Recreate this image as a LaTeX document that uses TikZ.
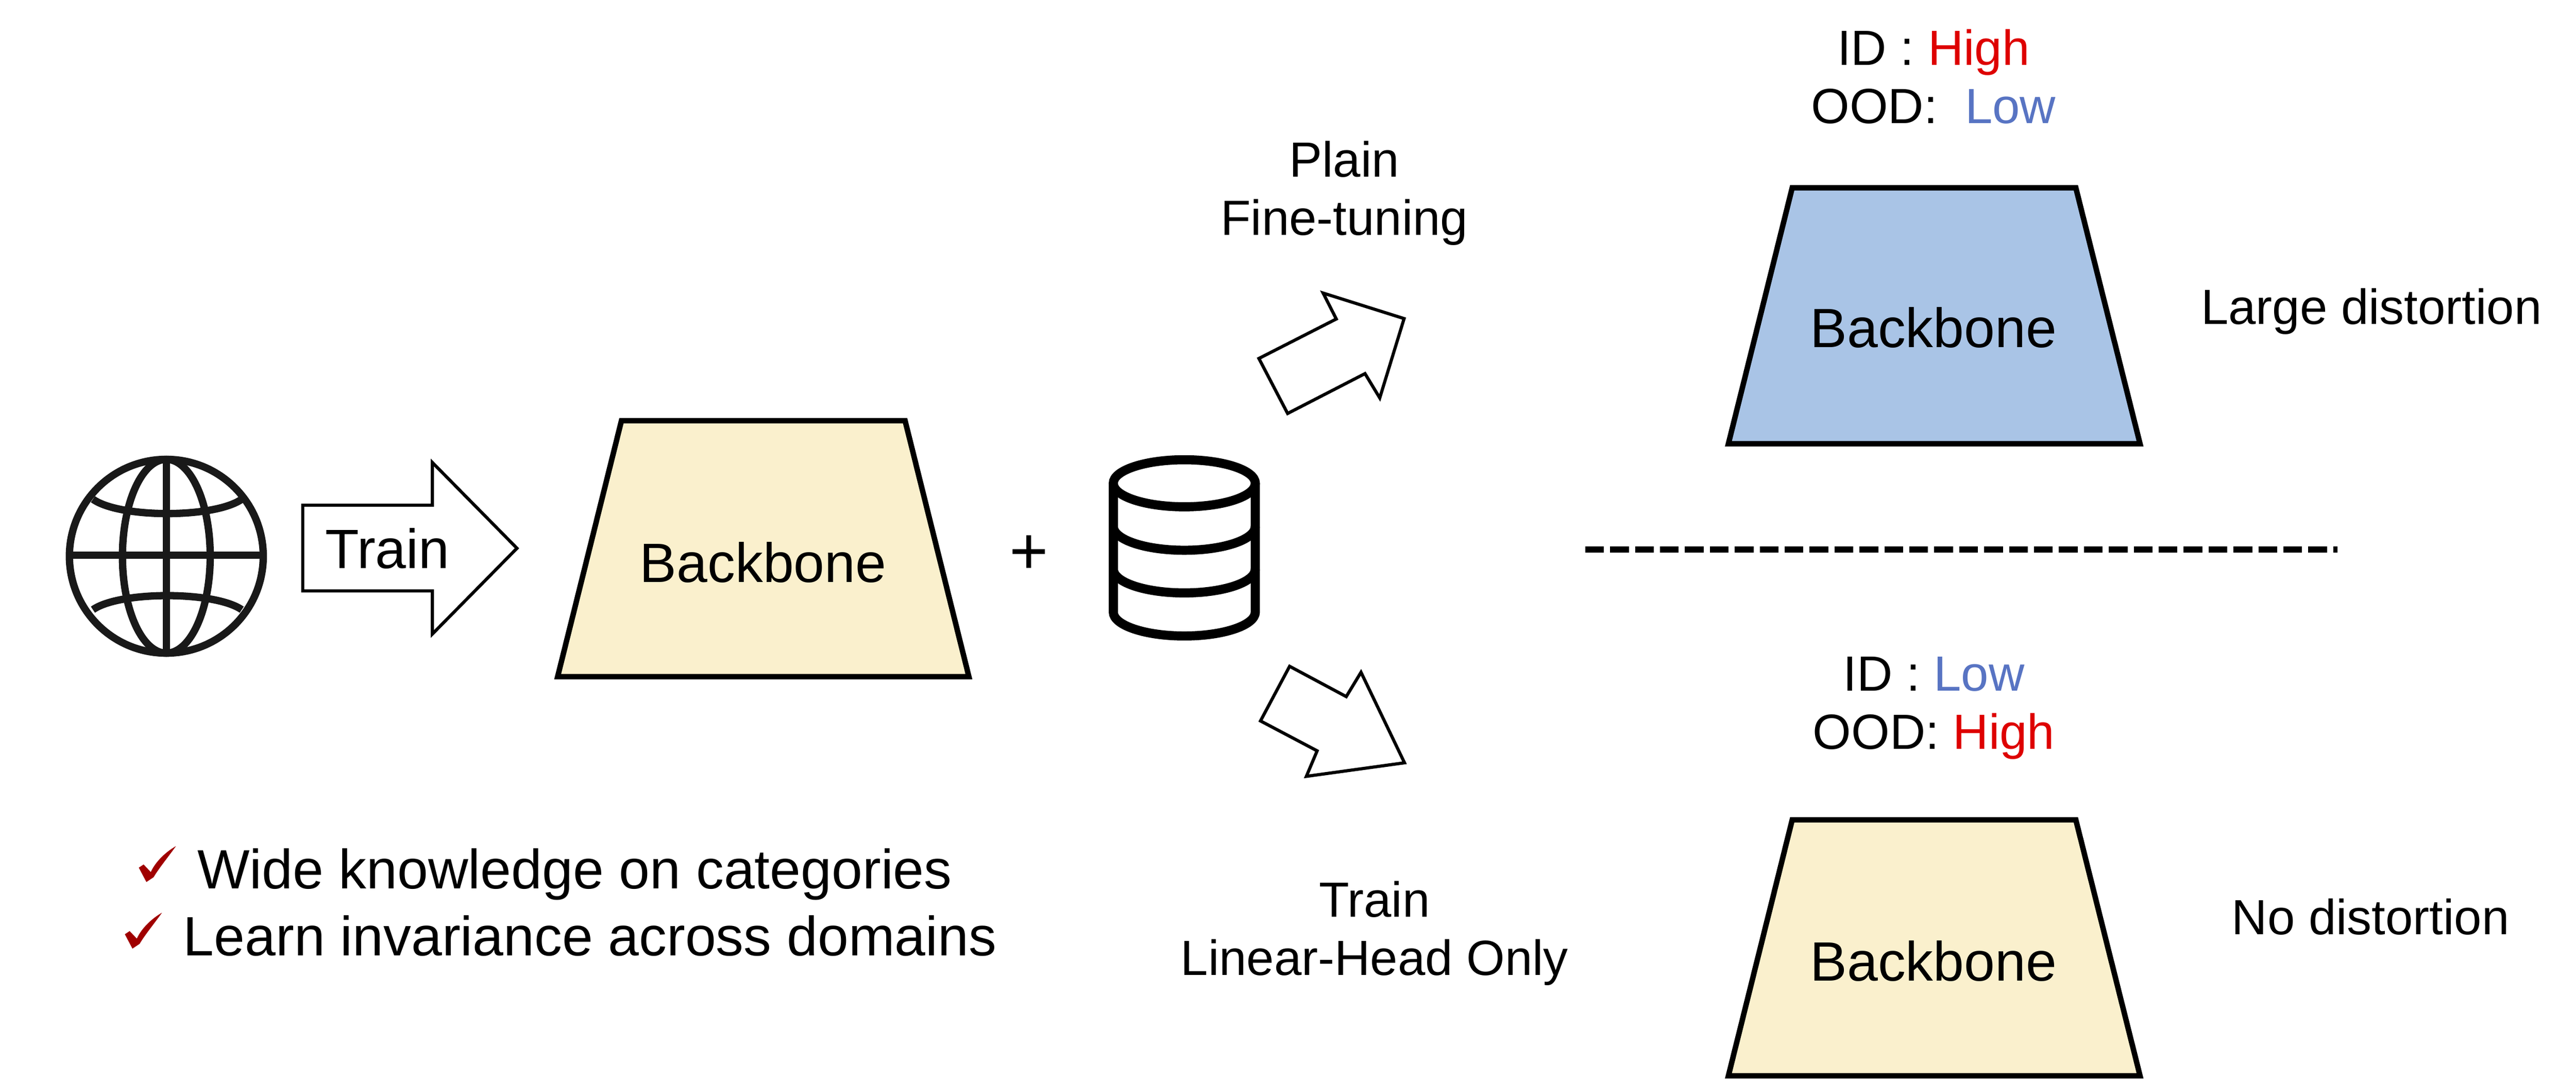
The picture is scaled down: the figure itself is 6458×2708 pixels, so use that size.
\documentclass[tikz,border=0pt]{standalone}
\usepackage{fontspec}
\setmainfont{Liberation Sans}
\definecolor{paleyellow}{HTML}{FAF0CD}
\definecolor{paleblue}{HTML}{A9C4E6}
\definecolor{lowblue}{HTML}{5874C3}
\definecolor{highred}{HTML}{DE0000}
\definecolor{checkred}{HTML}{A00000}
\tikzset{
  big text/.style={font=\fontsize{15.8}{18}\selectfont,inner sep=0pt},
  small text/.style={font=\fontsize{14.1}{16.6}\selectfont,inner sep=0pt,align=center},
  backbone box/.style={draw=black,line width=1.55pt,fill=#1,line join=miter},
  block arrow/.style={draw=black,line width=0.9pt,fill=white,line join=miter,miter limit=20},
  icon line/.style={draw=black!90,line width=2.1pt},
  db line/.style={draw=black,line width=2.6pt},
  sep line/.style={draw=black,line width=1.82pt,dash pattern=on 5.35pt off 1.76pt},
  check mark/.style={fill=checkred,draw=none},
}
\begin{document}
\begin{tikzpicture}[x=0.004cm,y=-0.004cm]
  \useasboundingbox (0,0) rectangle (6458,2708);
  % Globe on the left
  \coordinate (globe) at (417,1395);
  \draw[icon line] (globe) ellipse (243 and 243);
  \draw[icon line] (globe) ellipse (110 and 243);
  \draw[icon line] (417,1152) -- (417,1638);
  \draw[icon line] (174,1392) -- (660,1392);
  \draw[icon line] (233,1252) .. controls (300,1300) and (538,1300) .. (606,1252);
  \draw[icon line] (233,1529) .. controls (300,1482) and (538,1482) .. (606,1529);
  % Train arrow
  \draw[block arrow] (759,1267) -- (1084,1267) -- (1084,1160) -- (1296,1375) -- (1084,1590) -- (1084,1482) -- (759,1482) -- cycle;
  \node[big text,anchor=base] (train) at (971,1425) {Train};
  % Source backbone
  \draw[backbone box=paleyellow] (1558,1055) -- (2269,1055) -- (2429,1697) -- (1398,1697) -- cycle;
  \node[big text,anchor=base] (srcbackbone) at (1913,1460) {Backbone};
  \node[big text,anchor=base,font=\fontsize{19}{20}\selectfont] (plus) at (2580,1439) {+};
  % Database
  \draw[db line] (2969,1212) ellipse (178 and 59);
  \draw[db line] (2791,1212) -- (2791,1535) arc[start angle=180,end angle=360,x radius=178,y radius=-60] -- (3147,1212);
  \draw[db line] (2791,1320) arc[start angle=180,end angle=360,x radius=178,y radius=-60];
  \draw[db line] (2791,1427) arc[start angle=180,end angle=360,x radius=178,y radius=-60];
  % Two branches
  \draw[block arrow] (3317,735) -- (3350,800) -- (3156,899) -- (3228,1037) -- (3422,937) -- (3459,998) -- (3520,799) -- cycle;
  \draw[block arrow] (3233,1671) -- (3375,1747) -- (3412,1686) -- (3521,1913) -- (3275,1947) -- (3302,1883) -- (3160,1808) -- cycle;
  \node[small text,anchor=base] (plainlabel) at (3370,590) {Plain\\Fine-tuning};
  \node[small text,anchor=base] (linearlabel) at (3446,2445) {Train\\Linear-Head Only};
  % Top right result
  \node[small text,anchor=base] (topscores) at (4847,309) {ID : \textcolor{highred}{High}\\OOD:\ \ \textcolor{lowblue}{Low}};
  \draw[backbone box=paleblue] (4493,471) -- (5204,471) -- (5365,1113) -- (4333,1113) -- cycle;
  \node[big text,anchor=base] (topbackbone) at (4847,871) {Backbone};
  \node[small text,anchor=base] (largelabel) at (5945,813) {Large distortion};
  % Separator
  \draw[sep line] (3974,1378) -- (5860,1378);
  % Bottom right result
  \node[small text,anchor=base] (bottomscores) at (4848,1879) {ID : \textcolor{lowblue}{Low}\\OOD: \textcolor{highred}{High}};
  \draw[backbone box=paleyellow] (4493,2056) -- (5204,2056) -- (5365,2698) -- (4333,2698) -- cycle;
  \node[big text,anchor=base] (bottombackbone) at (4847,2460) {Backbone};
  \node[small text,anchor=base] (nolabel) at (5943,2344) {No distortion};
  % Checked list
  \foreach \sx/\sy in {0/0,-35/167}
    \fill[check mark,shift={(\sx,\sy)}] (441,2122) .. controls (425,2145) and (400,2175) .. (385,2200) -- (367,2212) -- (348,2176) -- (360,2168) -- (378,2187) .. controls (388,2165) and (410,2140) .. cycle;
  \node[big text,anchor=base west] (knowledge) at (493,2229) {Wide knowledge on categories};
  \node[big text,anchor=base west] (invariance) at (458,2396) {Learn invariance across domains};
\end{tikzpicture}
\end{document}
